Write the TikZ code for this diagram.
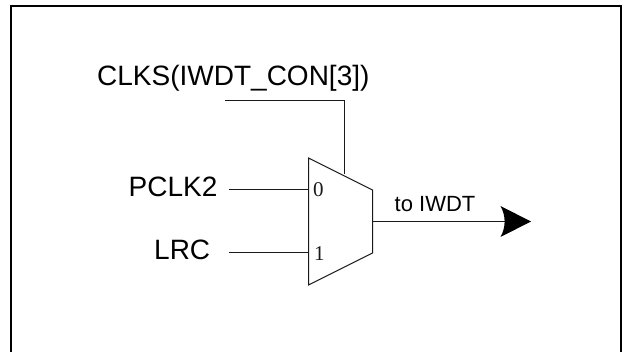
\documentclass[tikz,border=0pt]{standalone}
\usepackage{fontspec}
\setmainfont{Liberation Sans}
\newfontfamily\serifdigit{Liberation Serif}
\tikzset{
  wire/.style={line width=1pt,black!90},
  biglab/.style={font=\fontsize{28}{30}\selectfont,inner sep=0pt,anchor=base west},
  digit/.style={inner sep=0pt,anchor=base west,font=\serifdigit\fontsize{21}{24}\selectfont,black!90},
}
\begin{document}
\begin{tikzpicture}[x=1pt,y=-1pt]
\useasboundingbox (0,0) rectangle (632,352);
\coordinate (tl) at (11,6);
\coordinate (tr) at (621,6);
\coordinate (bl) at (11,352);
\coordinate (br) at (621,352);
\draw[line width=2pt] (bl) -- (tl) -- (tr) -- (br);
\coordinate (m1) at (308.5,158);
\coordinate (m2) at (372.5,190);
\coordinate (m3) at (372.5,253);
\coordinate (m4) at (308.5,285);
\node[biglab] (clks) at (97,86) {CLKS(IWDT\_CON[3])};
\node[biglab] (pclk) at (128.5,197) {PCLK2};
\node[biglab] (lrc) at (154,260) {LRC};
\coordinate (c0) at (225,101);
\coordinate (c1) at (344.5,101);
\coordinate (c2) at (344.5,174.5);
\coordinate (p0) at (229,189.5);
\coordinate (p1) at (308.5,189.5);
\coordinate (l0) at (229,253);
\coordinate (l1) at (308.5,253);
\coordinate (o0) at (372.5,221.5);
\coordinate (o1) at (505,221.5);
\coordinate (atip) at (531,221.5);
\coordinate (atop) at (500.5,206);
\coordinate (abot) at (500.5,237);
\draw[wire] (m1) -- (m2) -- (m3) -- (m4) -- cycle;
\draw[wire] (c0) -- (c1) -- (c2);
\draw[wire] (p0) -- (p1);
\draw[wire] (l0) -- (l1);
\draw[wire] (o0) -- (o1);
\fill (atip) -- (atop) .. controls (506,216) and (506,227) .. (abot) -- cycle;
\node[digit] (d0) at (313,197) {0};
\node[digit] (d1) at (314,261) {1};
\node[inner sep=0pt,anchor=base west,font=\fontsize{22}{24}\selectfont] (to) at (394.5,212) {to IWDT};
\end{tikzpicture}
\end{document}
